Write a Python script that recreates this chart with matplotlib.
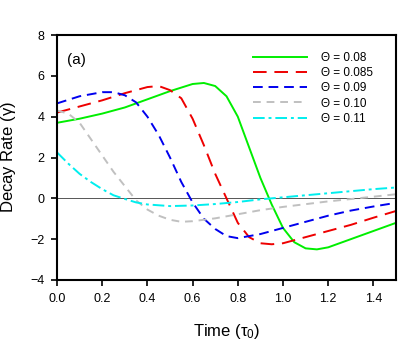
import matplotlib
matplotlib.use("Agg")
import matplotlib.pyplot as plt

plt.rcParams["font.family"] = ["Liberation Sans", "DejaVu Sans"]
plt.rcParams["mathtext.fontset"] = "custom"
plt.rcParams["mathtext.rm"] = "Liberation Sans"
plt.rcParams["mathtext.it"] = "Liberation Sans"

# time axis (tau_0) and decay rates for each Theta
t_green = [0.0, 0.1, 0.2, 0.3, 0.4, 0.5, 0.6, 0.65, 0.7, 0.75, 0.8, 0.85, 0.9, 0.95, 1.0, 1.05, 1.1, 1.15, 1.2, 1.3, 1.4, 1.5]
g_green = [3.7, 3.9, 4.15, 4.45, 4.85, 5.25, 5.6, 5.65, 5.5, 5.0, 4.0, 2.5, 1.0, -0.3, -1.45, -2.15, -2.45, -2.5, -2.4, -2.0, -1.6, -1.2]

t_red = [0.0, 0.1, 0.2, 0.3, 0.4, 0.45, 0.5, 0.55, 0.6, 0.65, 0.7, 0.75, 0.8, 0.85, 0.9, 0.95, 1.0, 1.1, 1.2, 1.3, 1.4, 1.5]
g_red = [4.2, 4.5, 4.8, 5.15, 5.45, 5.5, 5.3, 4.9, 3.9, 2.6, 1.2, 0.0, -1.2, -1.9, -2.2, -2.25, -2.2, -1.9, -1.6, -1.3, -0.95, -0.62]

t_blue = [0.0, 0.1, 0.2, 0.25, 0.3, 0.35, 0.4, 0.45, 0.5, 0.55, 0.6, 0.65, 0.7, 0.75, 0.8, 0.9, 1.0, 1.1, 1.2, 1.3, 1.4, 1.5]
g_blue = [4.65, 5.0, 5.2, 5.2, 5.05, 4.7, 4.0, 3.1, 2.0, 0.8, -0.2, -1.0, -1.5, -1.85, -1.95, -1.75, -1.45, -1.15, -0.85, -0.6, -0.4, -0.22]

t_gray = [0.0, 0.05, 0.1, 0.15, 0.2, 0.25, 0.3, 0.35, 0.4, 0.45, 0.5, 0.55, 0.6, 0.7, 0.8, 0.9, 1.0, 1.2, 1.4, 1.5]
g_gray = [4.3, 4.15, 3.7, 2.9, 2.1, 1.3, 0.6, -0.1, -0.55, -0.85, -1.05, -1.15, -1.12, -0.98, -0.78, -0.58, -0.42, -0.15, 0.08, 0.2]

t_cyan = [0.0, 0.05, 0.1, 0.15, 0.2, 0.25, 0.3, 0.35, 0.4, 0.5, 0.6, 0.7, 0.8, 0.9, 1.0, 1.2, 1.4, 1.5]
g_cyan = [2.25, 1.7, 1.2, 0.8, 0.45, 0.15, -0.03, -0.2, -0.3, -0.38, -0.35, -0.28, -0.18, -0.05, 0.05, 0.25, 0.45, 0.53]

labels = ["\u0398 = 0.08", "\u0398 = 0.085", "\u0398 = 0.09", "\u0398 = 0.10", "\u0398 = 0.11"]

fig = plt.figure(figsize=(4.14, 3.46), dpi=100)
ax = fig.add_axes([57 / 414, 1 - 280 / 346, (396 - 57) / 414, (280 - 35) / 346])

ax.axhline(0, color="#555555", lw=0.7, zorder=1)
ax.plot(t_green, g_green, color="#00ee00", lw=1.4, label=labels[0])
ax.plot(t_red, g_red, color="#ee0000", lw=1.4, dashes=(7, 4), label=labels[1])
ax.plot(t_blue, g_blue, color="#0000ee", lw=1.4, dashes=(5, 3), label=labels[2])
ax.plot(t_gray, g_gray, color="#c0c0c0", lw=1.4, dashes=(4, 3), label=labels[3])
ax.plot(t_cyan, g_cyan, color="#00eeee", lw=1.4, dashes=(6, 2, 1.5, 2), label=labels[4])

ax.set_xlim(0, 1.5)
ax.set_ylim(-4, 8)
ax.set_xticks([0.0, 0.2, 0.4, 0.6, 0.8, 1.0, 1.2, 1.4])
ax.set_yticks([-4, -2, 0, 2, 4, 6, 8])
ax.set_xticklabels(["0.0", "0.2", "0.4", "0.6", "0.8", "1.0", "1.2", "1.4"])
ax.tick_params(direction="out", length=4, width=1.2, labelsize=9, top=False, right=False, pad=5)
for s in ax.spines.values():
    s.set_linewidth(1.5)

ax.set_xlabel("Time ($\\tau_0$)", fontsize=12)
ax.xaxis.set_label_coords(0.5, -0.17)
ax.set_ylabel("Decay Rate ($\\gamma$)", fontsize=12)
ax.yaxis.set_label_coords(-0.115, 0.5)
ax.text(0.03, 0.88, "(a)", transform=ax.transAxes, fontsize=11)

ax.legend(loc="upper left", frameon=False, fontsize=8.5, handlelength=4.6, handletextpad=1.2,
          labelspacing=0.27, borderpad=0, borderaxespad=0,
          bbox_to_anchor=((253 - 57) / 339, (280 - 52) / 245))

fig.savefig("out.png", dpi=100)
